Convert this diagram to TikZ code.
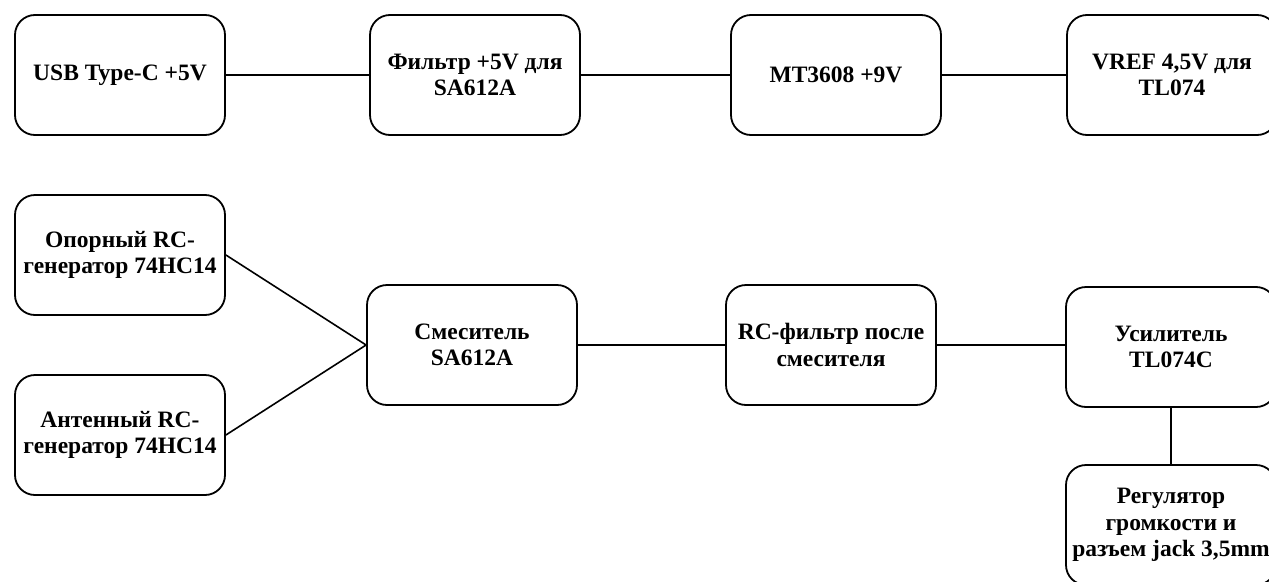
\documentclass[tikz,border=0pt]{standalone}
\usepackage{fontspec}
\setmainfont{Liberation Serif}
\begin{document}
\begin{tikzpicture}[x=1pt,y=1pt,
  blk/.style={draw=black, line width=1.8pt, rounded corners=20pt, minimum width=210pt, minimum height=120pt,
    align=center, inner sep=0pt, font=\fontsize{23.5}{26.5}\selectfont\bfseries},
  wire/.style={draw=black, line width=1.6pt}]
\useasboundingbox (0,0) rectangle (1269,-581);
\node[blk] (usb)  at (120,-75) {USB Type-C +5V};
\node[blk] (filt) at (475,-75) {Фильтр +5V для\\SA612A};
\node[blk] (mt)   at (836,-75) {MT3608 +9V};
\node[blk] (vref) at (1172,-75) {VREF 4,5V для\\TL074};
\node[blk] (op)   at (120,-255) {Опорный RC-\\генератор 74HC14};
\node[blk] (ant)  at (120,-435) {Антенный RC-\\генератор 74HC14};
\node[blk] (mix)  at (472,-345) {Смеситель\\SA612A};
\node[blk] (rc)   at (831,-345) {RC-фильтр после\\смесителя};
\node[blk] (amp)  at (1171,-347) {Усилитель\\TL074C};
\node[blk] (reg)  at (1171,-525) {Регулятор\\громкости и\\разъем jack 3,5mm};
\draw[wire] (usb) -- (filt);
\draw[wire] (filt) -- (mt);
\draw[wire] (mt) -- (vref);
\draw[wire] (op.east) -- (mix.west);
\draw[wire] (ant.east) -- (mix.west);
\draw[wire] (mix) -- (rc);
\draw[wire] (rc.east) -- (amp.west |- rc.east);
\draw[wire] (amp) -- (reg);
\end{tikzpicture}
\end{document}
